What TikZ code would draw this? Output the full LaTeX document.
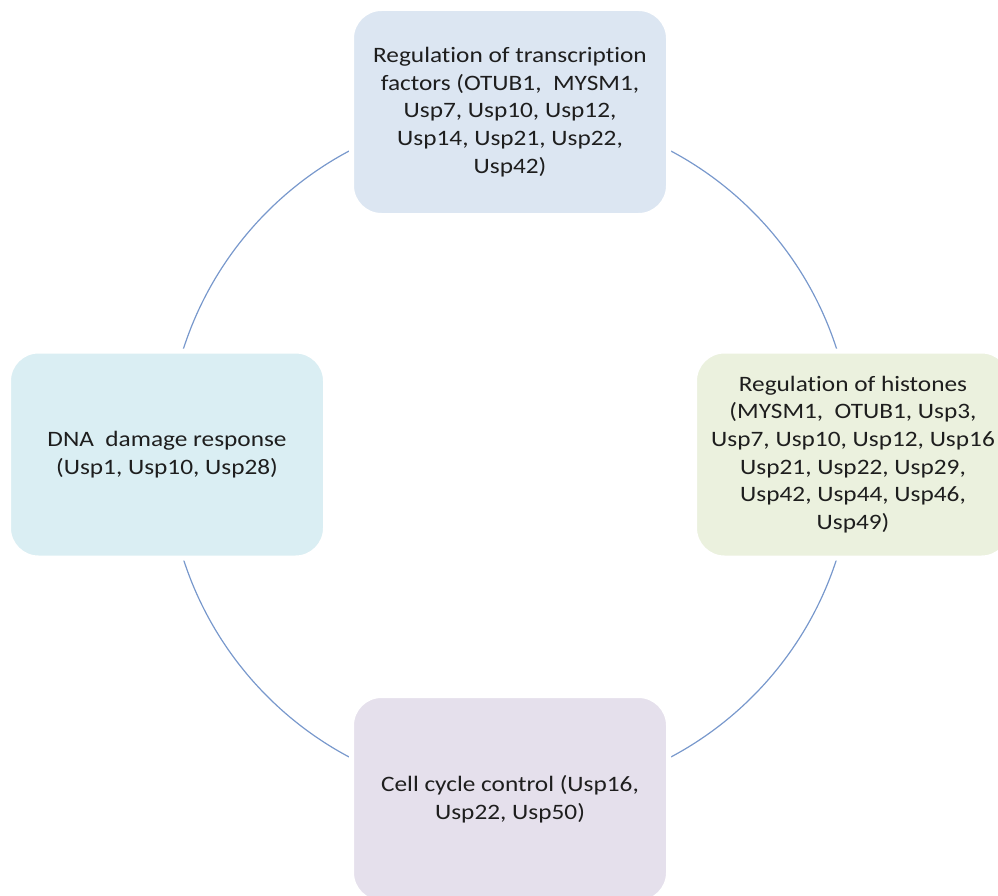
\documentclass[tikz,border=0pt]{standalone}
\usepackage{fontspec}
\setmainfont{Carlito}[FakeStretch=1.15,Ligatures=NoCommon]
\definecolor{topfill}{HTML}{DCE6F2}
\definecolor{rightfill}{HTML}{EBF1DE}
\definecolor{leftfill}{HTML}{DAEEF3}
\definecolor{botfill}{HTML}{E5E0EC}
\definecolor{ringcol}{RGB}{120,152,204}
\definecolor{txtcol}{RGB}{30,30,30}
\begin{document}
\begin{tikzpicture}[x=1pt,y=-1pt,
  boxstyle/.style={rounded corners=30pt, draw=white, line width=5pt,
    minimum width=317pt, minimum height=207pt, align=center,
    font=\fontsize{22}{27.6}\selectfont, text=txtcol, inner sep=0pt},
  ringstyle/.style={circle, draw=ringcol, line width=1.2pt, minimum size=686pt, inner sep=0pt}]
\useasboundingbox (0,0) rectangle (998,896);
\node[ringstyle] (ring) at (510,454) {};
\node[boxstyle, fill=topfill] (tf) at (510,112) {Regulation of transcription\\factors (OTUB1,~ MYSM1,\\Usp7, Usp10, Usp12,\\Usp14, Usp21, Usp22,\\Usp42)};
\node[boxstyle, fill=rightfill] (hist) at (853,454.5) {Regulation of histones\\(MYSM1,~ OTUB1, Usp3,\\Usp7, Usp10, Usp12, Usp16\\Usp21, Usp22, Usp29,\\Usp42, Usp44, Usp46,\\Usp49)};
\node[boxstyle, fill=leftfill] (dna) at (167,454.5) {DNA~ damage response\\(Usp1, Usp10, Usp28)};
\node[boxstyle, fill=botfill] (cc) at (510,799) {Cell cycle control (Usp16,\\Usp22, Usp50)};
\end{tikzpicture}
\end{document}
